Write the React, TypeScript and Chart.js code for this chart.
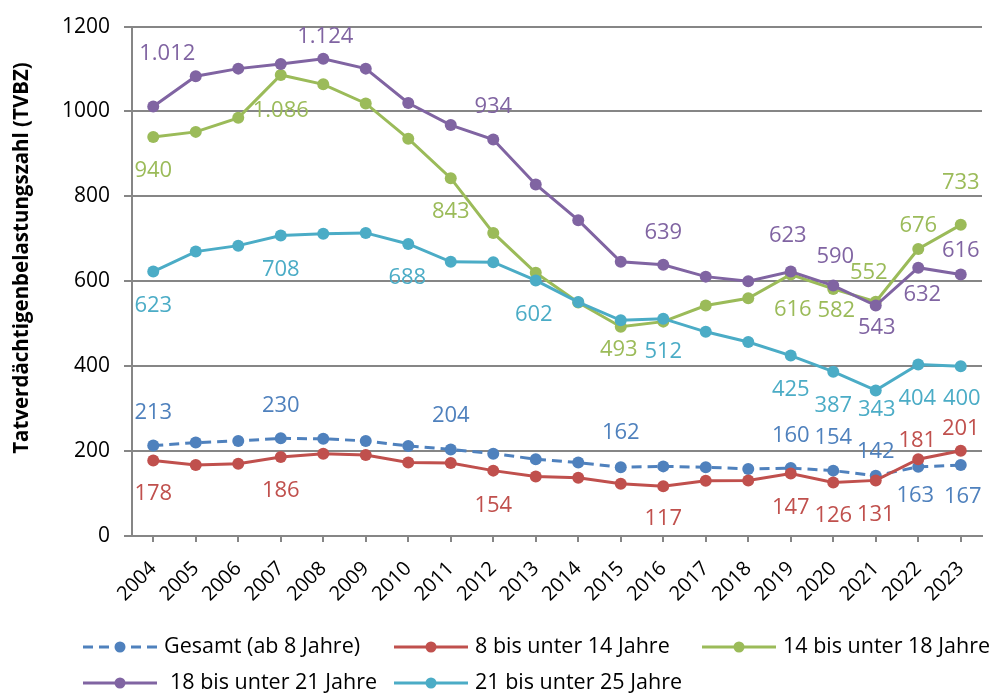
import React, { useEffect, useRef } from "react";
import { Chart, registerables } from "chart.js";

Chart.register(...registerables);

// ---------- data ----------
const years = ["2004","2005","2006","2007","2008","2009","2010","2011","2012","2013","2014","2015","2016","2017","2018","2019","2020","2021","2022","2023"];
const gesamt = [213,220,224,230,229,224,212,204,194,181,173,162,164,162,158,160,154,142,163,167];
const age8to14 = [178,167,170,186,194,191,173,172,154,140,137,123,117,130,131,147,126,131,181,201];
const age14to18 = [940,952,985,1086,1064,1019,936,843,714,620,550,493,505,543,560,616,582,552,676,733];
const age18to21 = [1012,1083,1101,1112,1124,1101,1020,968,934,828,744,646,639,611,600,623,590,543,632,616];
const age21to25 = [623,670,684,708,712,714,688,646,645,602,551,508,512,481,457,425,387,343,404,400];
const seriesNames = ["Gesamt (ab 8 Jahre)","8 bis unter 14 Jahre","14 bis unter 18 Jahre","18 bis unter 21 Jahre","21 bis unter 25 Jahre"];
const yTicks = [0,200,400,600,800,1000,1200];
const yTitle = "Tatverdächtigenbelastungszahl (TVBZ)";

// ---------- label placement (index -> [dx, dy] from point) ----------
const gesamtLabels: Record<number, [number, number]> = {0:[0,-33],3:[0,-33],7:[0,-34],11:[0,-34],15:[0,-32],16:[0,-33],17:[0,-24],18:[-3,29],19:[2,32]};
const age8to14Labels: Record<number, [number, number]> = {0:[0,33],3:[0,34],8:[0,35],12:[0,32],15:[0,34],16:[0,33],17:[0,34],18:[-1,-18],19:[0,-22]};
const age14to18Labels: Record<number, [number, number]> = {0:[0,34],3:[0,36],7:[0,34],11:[-2,23],15:[2,35],16:[3,22],17:[-7,-29],18:[0,-23],19:[0,-42]};
const age18to21Labels: Record<number, [number, number]> = {0:[14,-53],4:[2,-22],8:[0,-33],12:[0,-32],15:[-3,-36],16:[2,-29],17:[1,22],18:[4,27],19:[0,-24]};
const age21to25Labels: Record<number, [number, number]> = {0:[0,34],3:[0,34],6:[-1,34],9:[-2,34],12:[0,33],15:[0,34],16:[0,34],17:[1,19],18:[-1,34],19:[1,33]};

const COLORS = ["#4F81BD", "#C0504D", "#9BBB59", "#8064A2", "#4BACC6"];
const FONT = '"Open Sans", "Liberation Sans", sans-serif';

function fmt(n: number): string {
  return String(n).replace(/\B(?=(\d{3})+(?!\d))/g, ".");
}

const labelPlugin = {
  id: "pointLabels",
  afterDatasetsDraw(chart: any) {
    const ctx = chart.ctx;
    chart.data.datasets.forEach((ds: any, i: number) => {
      const meta = chart.getDatasetMeta(i);
      const place = ds.labelPlace || {};
      ctx.save();
      ctx.font = `22px ${FONT}`;
      ctx.fillStyle = ds.borderColor;
      ctx.textAlign = "center";
      ctx.textBaseline = "middle";
      Object.keys(place).forEach((k) => {
        const idx = Number(k);
        const el = meta.data[idx];
        if (!el) return;
        const [dx, dy] = place[idx];
        ctx.fillText(fmt(ds.data[idx]), el.x + dx, el.y + dy);
      });
      ctx.restore();
    });
  },
};

const legendPlugin = {
  id: "customLegend",
  afterDraw(chart: any) {
    const ctx = chart.ctx;
    const rows = [[0, 1, 2], [3, 4]];
    const cols = [83, 394, 702];
    const rowY = [647, 683];
    ctx.save();
    rows.forEach((row, r) => {
      row.forEach((di, c) => {
        const ds = chart.data.datasets[di];
        const x0 = cols[c];
        const y = rowY[r];
        ctx.strokeStyle = ds.borderColor;
        ctx.lineWidth = 3;
        ctx.setLineDash(ds.borderDash || []);
        ctx.beginPath();
        ctx.moveTo(x0, y);
        ctx.lineTo(x0 + 74, y);
        ctx.stroke();
        ctx.setLineDash([]);
        ctx.fillStyle = ds.borderColor;
        ctx.beginPath();
        ctx.arc(x0 + 37, y, 5.5, 0, Math.PI * 2);
        ctx.fill();
        ctx.fillStyle = "#000";
        ctx.font = `21.5px ${FONT}`;
        ctx.textAlign = "left";
        ctx.textBaseline = "middle";
        ctx.fillText(ds.label, x0 + 81 + (r === 1 && c === 0 ? 6 : 0), y);
      });
    });
    ctx.restore();
  },
};

const yTitlePlugin = {
  id: "yTitle",
  afterDraw(chart: any) {
    const ctx = chart.ctx;
    ctx.save();
    ctx.translate(22, 258);
    ctx.rotate(-Math.PI / 2);
    ctx.font = `bold 20.5px ${FONT}`;
    ctx.fillStyle = "#000";
    ctx.textAlign = "center";
    ctx.textBaseline = "middle";
    ctx.fillText(yTitle, 0, 0);
    ctx.restore();
  },
};

export default function App() {
  const ref = useRef<HTMLCanvasElement | null>(null);
  useEffect(() => {
    if (!ref.current) return;
    const mk = (i: number, data: number[], labels: Record<number, [number, number]>, order: number, dash?: number[]) => ({
      label: seriesNames[i],
      data,
      borderColor: COLORS[i],
      backgroundColor: COLORS[i],
      pointBackgroundColor: COLORS[i],
      pointBorderColor: COLORS[i],
      pointRadius: 6,
      pointBorderWidth: 0,
      borderWidth: 3,
      borderDash: dash,
      tension: 0,
      order,
      labelPlace: labels,
    });
    const chart = new Chart(ref.current, {
      type: "line",
      data: {
        labels: years,
        datasets: [
          mk(0, gesamt, gesamtLabels, 5, [10, 6]),
          mk(1, age8to14, age8to14Labels, 4),
          mk(2, age14to18, age14to18Labels, 3),
          mk(3, age18to21, age18to21Labels, 2),
          mk(4, age21to25, age21to25Labels, 1),
        ] as any,
      },
      options: {
        responsive: false,
        animation: false,
        devicePixelRatio: 1,
        layout: { padding: { left: 0, top: 22, right: 14, bottom: 0 } },
        plugins: { legend: { display: false }, tooltip: { enabled: false } },
        scales: {
          x: {
            offset: true,
            grid: { display: true, drawOnChartArea: false, drawTicks: true, tickLength: 6, color: "#868686", lineWidth: 2, offset: false },
            border: { display: true, color: "#868686", width: 2 },
            ticks: { minRotation: 45, maxRotation: 45, autoSkip: false, color: "#000", font: { family: FONT, size: 20 }, padding: 15 },
            afterFit: (s: any) => { s.height = 157; },
          },
          y: {
            min: 0,
            max: 1200,
            afterBuildTicks: (s: any) => { s.ticks = yTicks.map((v) => ({ value: v })); },
            grid: { color: "#868686", lineWidth: 2, tickLength: 8 },
            border: { display: true, color: "#868686", width: 2 },
            ticks: { color: "#000", font: { family: FONT, size: 21 }, padding: 14, callback: (v: any) => String(v) },
            afterFit: (s: any) => { s.width = 132; },
          },
        },
      } as any,
      plugins: [labelPlugin, legendPlugin, yTitlePlugin],
    });
    return () => chart.destroy();
  }, []);
  return (
    <div style={{ position: "absolute", left: 0, top: 0, width: 996, height: 693, background: "#fff" }}>
      <canvas ref={ref} width={996} height={693} />
    </div>
  );
}
